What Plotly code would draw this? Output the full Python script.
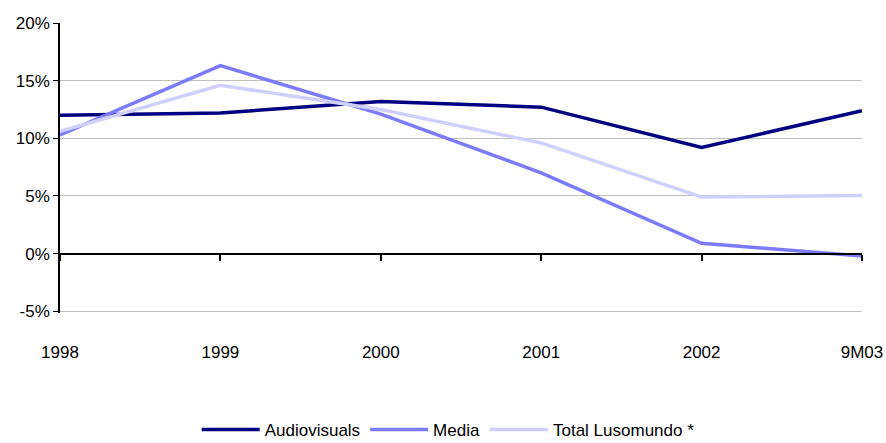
import plotly.graph_objects as go

categories = ["1998", "1999", "2000", "2001", "2002", "9M03"]
audiovisuals = [12.0, 12.2, 13.2, 12.7, 9.2, 12.4]
media = [10.3, 16.3, 12.1, 7.0, 0.9, -0.2]
total = [10.6, 14.6, 12.5, 9.6, 4.9, 5.05]
y_ticks = [-5, 0, 5, 10, 15, 20]
y_tick_labels = ["-5%", "0%", "5%", "10%", "15%", "20%"]

FONT = "Liberation Sans, Arial, sans-serif"
fig = go.Figure()
series = [("Audiovisuals", audiovisuals, "#000080"),
          ("Media", media, "#7b7bff"),
          ("Total Lusomundo *", total, "#d0d0ff")]
for name, vals, col in series:
    fig.add_trace(go.Scatter(x=categories, y=vals, name=name, mode="lines",
                             line=dict(color=col, width=3.5)))

fig.update_layout(
    width=886, height=443,
    margin=dict(l=60, r=24, t=23, b=130, autoexpand=False),
    paper_bgcolor="white", plot_bgcolor="white",
    font=dict(family=FONT, size=17, color="#000000"),
    showlegend=True,
    legend=dict(orientation="h", x=0.484, xanchor="center", y=-0.403, yanchor="middle",
                font=dict(size=17), itemwidth=58, traceorder="normal"),
    xaxis=dict(type="category", range=[0, 5], anchor="free", position=0.205,
               showline=True, linecolor="#000000", linewidth=2,
               ticks="outside", ticklen=6, tickcolor="#000000", tickwidth=1.5,
               showticklabels=False, showgrid=False, zeroline=False, automargin=False),
    xaxis2=dict(type="category", range=[0, 5], overlaying="x", anchor="y", side="bottom",
                showline=False, ticks="", showticklabels=True, showgrid=False,
                zeroline=False, ticklabelstandoff=27, matches="x", automargin=False,
                tickfont=dict(size=17)),
    yaxis=dict(range=[-5.15, 20], tickvals=y_ticks, ticktext=y_tick_labels,
               showline=True, linecolor="#000000", linewidth=1.5,
               ticks="outside", ticklen=5, tickcolor="#000000",
               showgrid=True, gridcolor="#c0c0c0", gridwidth=1.3,
               zeroline=False, automargin=False, tickfont=dict(size=17)),
)
# invisible trace so the label axis (x2) is drawn with the category labels
fig.add_trace(go.Scatter(x=categories, y=[None]*len(categories), xaxis="x2",
                         showlegend=False, hoverinfo="skip", mode="lines"))
fig.write_html("out.html", config={"displayModeBar": False},
               post_script="document.body.style.margin='0';document.body.style.overflow='hidden';")
